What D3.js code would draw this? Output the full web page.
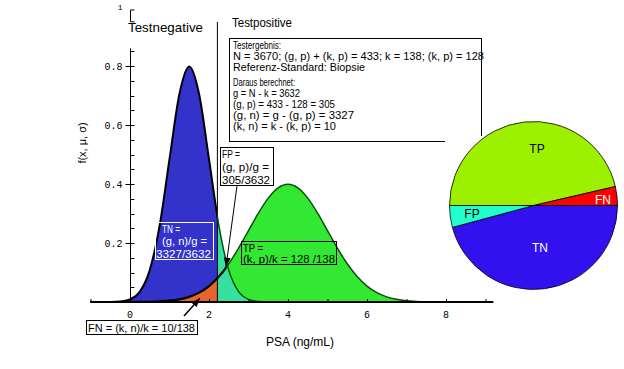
<!DOCTYPE html>
<html><head><meta charset="utf-8">
<script src="https://cdn.jsdelivr.net/npm/d3@7"></script>
<style>body{margin:0;background:#fff}svg{display:block}text{font-family:"Liberation Sans",Arial,sans-serif}</style>
</head><body><svg id="c" width="624" height="369"></svg>
<script>
// ---------- data ----------
const xValues = [-1,-0.75,-0.5,-0.25,0,0.25,0.5,0.75,1,1.25,1.5,1.75,2,2.25,2.5,2.75,3,3.25,3.5,3.75,4,4.25,4.5,4.75,5,5.25,5.5,5.75,6,6.25,6.5,6.75,7,7.25,7.5,7.75,8,8.25,8.5,8.75,9];
// density of the test-negative group (healthy)
const negValues = [0,0,0.0003,0.0017,0.0089,0.035,0.108,0.259,0.484,0.704,0.798,0.704,0.484,0.259,0.108,0.035,0.0089,0.0017,0.0003,0,0,0,0,0,0,0,0,0,0,0,0,0,0,0,0,0,0,0,0,0,0];
// density of the diseased group
const posValues = [0,0,0,0,0.0001,0.0004,0.0009,0.002,0.0044,0.0091,0.0175,0.0317,0.054,0.0863,0.1295,0.1827,0.242,0.3011,0.3521,0.3867,0.399,0.3867,0.3521,0.3011,0.242,0.1827,0.1295,0.0863,0.054,0.0317,0.0175,0.0091,0.0044,0.002,0.0009,0.0004,0.0001,0,0,0,0];
const cutoff = 2.2;
const crossX = 2.45;
const xTicks = [0,2,4,6,8];
const yTicks = [0.2,0.4,0.6,0.8];
const yTickLabels = ["0.2","0.4","0.6","0.8"];
const infoLines = [
  "Testergebnis:",
  "N = 3670; (g, p) + (k, p) = 433; k = 138; (k, p) = 128",
  "Referenz-Standard: Biopsie",
  "Daraus berechnet:",
  "g = N - k = 3632",
  "(g, p) = 433 - 128 = 305",
  "(g, n) = g - (g, p) = 3327",
  "(k, n) = k - (k, p) = 10"
];
const infoWidths = [48,251,132,62,67,102,121,103];
const pieNames = ["TP","FN","TN","FP"];
const pieCounts = [128,10,3327,305];
const pieGroupTotals = [138,138,3632,3632];
const pieColors = ["#9cf000","#ff0000","#3311ee","#22ffcc"];
const pieTextColors = ["#000","#fff","#fff","#000"];

// ---------- setup ----------
const svg = d3.select("#c");
const x = d3.scaleLinear().domain([0,8]).range([130,446]);
const y = d3.scaleLinear().domain([0,0.8]).range([302,66]);
const defs = svg.append("defs");
function clip(id, x0, x1){
  defs.append("clipPath").attr("id",id).append("rect")
    .attr("x",x0).attr("y",0).attr("width",x1-x0).attr("height",369);
}
clip("cl", 0, x(cutoff));
clip("cr", x(cutoff), 624);
clip("pl", 0, x(crossX));
clip("pr", x(crossX), 624);
defs.append("marker").attr("id","ah").attr("markerUnits","userSpaceOnUse")
  .attr("markerWidth",9).attr("markerHeight",7).attr("refX",9).attr("refY",3.5)
  .attr("orient","auto").append("path").attr("d","M0,0L9,3.5L0,7Z").attr("fill","#000");

const area = d3.area().x((d,i)=>x(xValues[i])).y0(y(0)).y1(d=>y(d)).curve(d3.curveMonotoneX);
const line = d3.line().x((d,i)=>x(xValues[i])).y(d=>y(d)).curve(d3.curveMonotoneX);

// fills
svg.append("path").attr("d",area(negValues)).attr("fill","#3333cc").attr("clip-path","url(#cl)");
svg.append("path").attr("d",area(posValues)).attr("fill","#e8642c").attr("clip-path","url(#cl)");
svg.append("path").attr("d",area(posValues)).attr("fill","#33e833").attr("clip-path","url(#cr)");
svg.append("path").attr("d",area(negValues)).attr("fill","#38e0a0").attr("clip-path","url(#cr)");

// threshold line
svg.append("line").attr("x1",x(cutoff)+0.5).attr("x2",x(cutoff)+0.5).attr("y1",22).attr("y2",y(0))
  .attr("stroke","#000").attr("stroke-width",1);

// curve outlines
svg.append("path").attr("d",line(negValues)).attr("fill","none").attr("stroke","#000").attr("stroke-width",2).attr("clip-path","url(#cl)");
svg.append("path").attr("d",line(negValues)).attr("fill","none").attr("stroke","#0d4d0d").attr("stroke-width",1.5).attr("clip-path","url(#cr)");
svg.append("path").attr("d",line(posValues)).attr("fill","none").attr("stroke","#000").attr("stroke-width",2.2).attr("clip-path","url(#pl)");
svg.append("path").attr("d",line(posValues)).attr("fill","none").attr("stroke","#0d4d0d").attr("stroke-width",1.5).attr("clip-path","url(#pr)");

// x axis
svg.append("line").attr("x1",x(-1)).attr("x2",x(9.2)).attr("y1",y(0)).attr("y2",y(0))
  .attr("stroke","#000").attr("stroke-width",2.2);
svg.selectAll(".xt").data(d3.range(-1,10,1)).enter().append("line")
  .attr("x1",d=>x(d)+0.5).attr("x2",d=>x(d)+0.5).attr("y1",y(0)-3).attr("y2",y(0))
  .attr("stroke","#000").attr("stroke-width",1);
svg.selectAll(".xl").data(xTicks).enter().append("text")
  .attr("x",d=>x(d)).attr("y",y(0)+16).attr("text-anchor","middle")
  .style("font-family","'Liberation Mono',monospace").style("font-size","10px").text(d=>d);

// y axis
const x0 = x(0)+0.5;
svg.append("line").attr("x1",x0).attr("x2",x0).attr("y1",y(0)).attr("y2",y(0.86)).attr("stroke","#000");
svg.selectAll(".ym").data(d3.range(1,18).map(i=>i*0.05)).enter().append("line")
  .attr("x1",x0).attr("x2",x0+4).attr("y1",d=>Math.round(y(d))+0.5).attr("y2",d=>Math.round(y(d))+0.5).attr("stroke","#000");
svg.selectAll(".yM").data(yTicks).enter().append("line")
  .attr("x1",x0-5).attr("x2",x0).attr("y1",d=>Math.round(y(d))+0.5).attr("y2",d=>Math.round(y(d))+0.5).attr("stroke","#000");
svg.selectAll(".yl").data(yTicks).enter().append("text")
  .attr("x",x0-8).attr("y",d=>y(d)+3.5).attr("text-anchor","end")
  .style("font-family","'Liberation Mono',monospace").style("font-size","10px").text((d,i)=>yTickLabels[i]);
svg.append("text").attr("x",x0-8).attr("y",y(1)+2.5).attr("text-anchor","end")
  .style("font-family","'Liberation Mono',monospace").style("font-size","8px").text("1");
svg.append("path").attr("d",`M${x0+4},${y(0.99)}H${x0}V${y(0.95)}H${x0+4}`).attr("fill","none").attr("stroke","#000");

// axis titles
svg.append("text").attr("x",300).attr("y",346).attr("text-anchor","middle").style("font-size","12px").text("PSA (ng/mL)");
svg.append("text").attr("transform","translate(86,143) rotate(-90)").attr("text-anchor","middle").style("font-size","11px").text("f(x, μ, σ)");

function txt(px, py, s, w, size, color){
  const t = svg.append("text").attr("x",px).attr("y",py).style("font-size",(size||10)+"px").attr("fill",color||"#000").text(s);
  if (w) t.attr("textLength",w).attr("lengthAdjust","spacingAndGlyphs");
  return t;
}
txt(128,32,"Testnegative",75,13);
txt(232,27,"Testpositive",60,12.5);

// info box
svg.append("rect").attr("x",229.5).attr("y",38.5).attr("width",252).attr("height",103).attr("fill","#fff").attr("stroke","#000");
const infoY = [49,60,71,86,97,108,119,130];
infoLines.forEach((s,i)=>txt(233, infoY[i], s, infoWidths[i], 11));

// annotation boxes
svg.append("rect").attr("x",155.5).attr("y",222.5).attr("width",58).attr("height",37).attr("fill","none").attr("stroke","#fff");
txt(162,233,"TN =",18,11,"#fff");
txt(162,245,"(g, n)/g =",45,11,"#fff");
txt(156,257.5,"3327/3632",55,11,"#fff");

svg.append("rect").attr("x",241.5).attr("y",241.5).attr("width",95).attr("height",23).attr("fill","none").attr("stroke","#000");
txt(243,252,"TP =",20,11);
txt(243,263,"(k, p)/k = 128 /138",92,11);

svg.append("rect").attr("x",220.5).attr("y",147.5).attr("width",53).attr("height",38).attr("fill","#fff").attr("stroke","#000");
txt(222,158,"FP =",18,11);
txt(222,171,"(g, p)/g =",47,11);
txt(222,183.5,"305/3632",48,11);

svg.append("rect").attr("x",86.5).attr("y",320.5).attr("width",111).attr("height",14).attr("fill","#fff").attr("stroke","#000");
txt(88,332,"FN = (k, n)/k = 10/138",107,11);

// arrows
svg.append("line").attr("x1",237).attr("y1",186).attr("x2",x(2.43)).attr("y2",y(0.12))
  .attr("stroke","#000").attr("stroke-width",1).attr("marker-end","url(#ah)");
svg.append("line").attr("x1",184).attr("y1",316).attr("x2",x(1.77)).attr("y2",y(0.013))
  .attr("stroke","#000").attr("stroke-width",1.5).attr("marker-end","url(#ah)");

// pie
svg.append("rect").attr("x",445).attr("y",136).attr("width",179).attr("height",162).attr("fill","#fff");
const cx = 533.5, cy = 205.5, R = 84;
const pieData = pieNames.map((n,i)=>({name:n, count:pieCounts[i], total:pieGroupTotals[i], color:pieColors[i], tc:pieTextColors[i]}));
const pie = d3.pie().sort(null).startAngle(-Math.PI/2).endAngle(1.5*Math.PI).value(d=>d.count/d.total);
const arcs = pie(pieData);
const arc = d3.arc().innerRadius(0).outerRadius(R);
const g = svg.append("g").attr("transform",`translate(${cx},${cy})`);
g.selectAll("path").data(arcs).enter().append("path").attr("d",arc)
  .attr("fill",d=>d.data.color).attr("stroke","#000").attr("stroke-width",0.8);
const labelOff = [[3.5,-57],[69.5,-6.5],[6.5,41.5],[-61.5,7.5]];
g.selectAll("text").data(arcs).enter().append("text")
  .attr("x",(d,i)=>labelOff[i][0]).attr("y",(d,i)=>labelOff[i][1]+4.5).attr("text-anchor","middle")
  .style("font-size","12px").attr("fill",d=>d.data.tc).text(d=>d.data.name);
</script></body></html>
